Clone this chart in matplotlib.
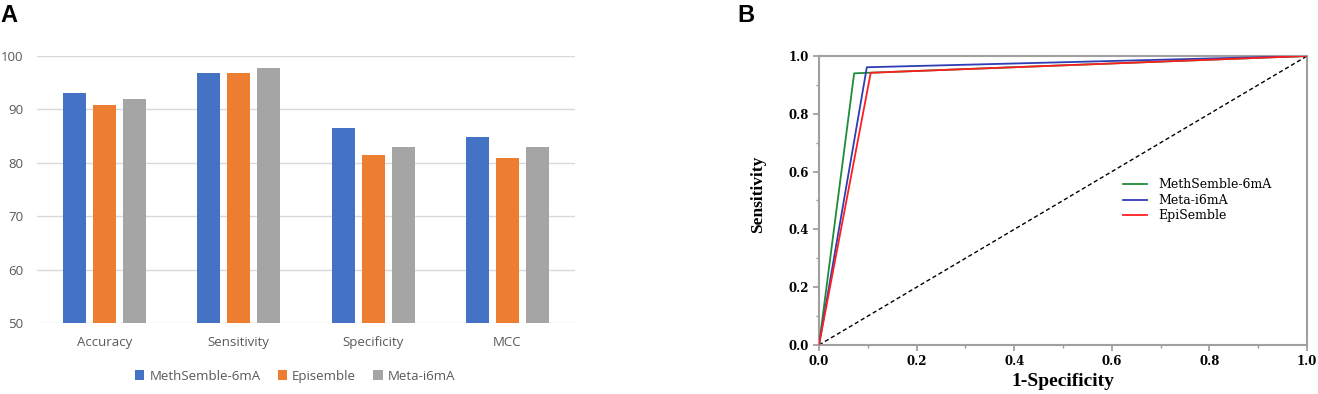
import numpy as np
import matplotlib
matplotlib.use("Agg")
import matplotlib.pyplot as plt
from matplotlib.ticker import MultipleLocator

# Panel A data
metrics = ["Accuracy", "Sensitivity", "Specificity", "MCC"]
methods = ["MethSemble-6mA", "Episemble", "Meta-i6mA"]
methsemble = [93.0, 96.8, 86.5, 84.9]
episemble = [90.8, 96.9, 81.4, 80.9]
meta_i6ma = [92.0, 97.8, 82.9, 82.9]
bar_colors = ["#4472C4", "#ED7D31", "#A5A5A5"]

# Panel B data (ROC points)
fpr_meth = [0.0, 0.072, 1.0]
tpr_meth = [0.0, 0.940, 1.0]
fpr_meta = [0.0, 0.098, 1.0]
tpr_meta = [0.0, 0.961, 1.0]
fpr_epi = [0.0, 0.106, 1.0]
tpr_epi = [0.0, 0.942, 1.0]

fig = plt.figure(figsize=(13.18, 3.94), dpi=100)

# ---- Panel A ----
ax = fig.add_axes([0.0281, 0.180, 0.408, 0.678])
x = np.arange(len(metrics))
w = 0.171
step = 0.223
for i, (vals, c, name) in enumerate(zip([methsemble, episemble, meta_i6ma], bar_colors, methods)):
    ax.bar(x + (i - 1) * step, np.array(vals) - 50, width=w, bottom=50, color=c, label=name, zorder=3)
ax.set_xlim(-0.5, 3.5)
ax.set_ylim(50, 100)
ax.set_yticks(range(50, 101, 10))
ax.set_xticks(x)
ax.set_xticklabels(metrics)
ax.yaxis.grid(True, color="#D9D9D9", linewidth=1.0, zorder=0)
for s in ["top", "right", "left", "bottom"]:
    ax.spines[s].set_visible(False)
ax.tick_params(axis="both", length=0, labelsize=9.5, labelcolor="#595959")
ax.tick_params(axis="y", pad=10)
ax.tick_params(axis="x", pad=9)
for t in ax.get_xticklabels() + ax.get_yticklabels():
    t.set_fontfamily("Open Sans")
leg = ax.legend(loc="upper center", bbox_to_anchor=(0.48, -0.13), ncol=3, frameon=False,
                handlelength=0.7, handleheight=0.7, handletextpad=0.4, columnspacing=1.3,
                prop={"family": "Open Sans", "size": 9.5})
for t in leg.get_texts():
    t.set_color("#595959")
fig.text(0.0, 0.961, "A", fontsize=17, fontweight="bold", family="Liberation Sans", va="center")

# ---- Panel B ----
tickfont = "DejaVu Serif"
serif = "Liberation Serif"
bx = fig.add_axes([0.6214, 0.1244, 0.3703, 0.7335])
bx.plot(fpr_meth, tpr_meth, color="#1E8C3A", lw=1.3, label="MethSemble-6mA", zorder=3)
bx.plot(fpr_meta, tpr_meta, color="#2E3DB5", lw=1.3, label="Meta-i6mA", zorder=3)
bx.plot(fpr_epi, tpr_epi, color="#FF1F1F", lw=1.3, label="EpiSemble", zorder=4)
bx.plot([0, 1], [0, 1], color="black", lw=1.0, ls=(0, (3, 2)), zorder=2)
bx.set_xlim(0, 1)
bx.set_ylim(0, 1)
bx.xaxis.set_major_locator(MultipleLocator(0.2))
bx.yaxis.set_major_locator(MultipleLocator(0.2))
bx.xaxis.set_minor_locator(MultipleLocator(0.1))
bx.yaxis.set_minor_locator(MultipleLocator(0.1))
bx.tick_params(which="major", length=4, width=1.2, color="#999999", labelsize=8.5)
bx.tick_params(which="minor", length=2.5, width=1.0, color="#999999")
for s in bx.spines.values():
    s.set_color("#A0A0A0")
    s.set_linewidth(1.5)
for t in bx.get_xticklabels() + bx.get_yticklabels():
    t.set_fontfamily(tickfont)
    t.set_fontweight("bold")
bx.set_xlabel("1-Specificity", family=serif, fontweight="bold", fontsize=14, labelpad=3)
bx.set_ylabel("Sensitivity", family=serif, fontweight="bold", fontsize=12.5)
bx.yaxis.set_label_coords(-0.108, 0.52)
bx.legend(loc="center left", bbox_to_anchor=(0.6, 0.5), frameon=False, handlelength=1.9,
          handletextpad=0.95, labelspacing=0.2, prop={"family": tickfont, "size": 9})
fig.text(0.5595, 0.961, "B", fontsize=17, fontweight="bold", family="Liberation Sans", va="center")

fig.savefig("out.png", dpi=100)
